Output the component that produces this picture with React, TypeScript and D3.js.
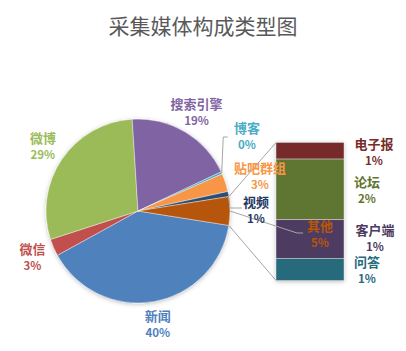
import React from 'react';
import * as d3 from 'd3';

// main pie, in drawing order (clockwise)
const pieNames = ['新闻', '微信', '微博', '搜索引擎', '博客', '贴吧群组', '视频', '其他'];
const pieValues = [39.5, 3.0, 29.0, 19.0, 0.4, 3.2, 0.9, 5.0];
const pieLabels = ['40%', '3%', '29%', '19%', '0%', '3%', '1%', '5%'];
const pieColors = ['#4f81bd', '#c0504d', '#9bbb59', '#8064a2', '#4bacc6', '#f79646', '#2c4d75', '#b65708'];
const pieTextColors = ['#4f81bd', '#c0504d', '#9bbb59', '#8064a2', '#4bacc6', '#f79646', '#1f3864', '#b65708'];

// breakdown of 其他, top to bottom
const barNames = ['电子报', '论坛', '客户端', '问答'];
const barValues = [0.6, 2.2, 1.4, 0.8];
const barLabels = ['1%', '2%', '1%', '1%'];
const barColors = ['#772c2a', '#5f7530', '#4d3b62', '#276a7c'];

const W = 406;
const H = 351;
const cx = 138;
const cy = 211;
const R = 92;
const barX0 = 276;
const barX1 = 344;
const barTop = 142.5;
const barBottom = 280.5;

// hand placed labels for the narrow slices (Excel moves them)
const pieLabelPos: Record<string, [number, number]> = {
  '博客': [247, 136],
  '贴吧群组': [260, 176],
  '视频': [256, 210],
  '其他': [320, 234],
};
const barLabelPos: [number, number][] = [
  [374, 152],
  [367, 190],
  [375, 238],
  [367, 270],
];

const otherIndex = pieNames.indexOf('其他');
const total = d3.sum(pieValues);
const offset = (Math.PI * 2 * (total - pieValues[otherIndex] / 2)) / total;

const pie = d3
  .pie<number>()
  .sort(null)
  .startAngle(Math.PI / 2 - offset)
  .endAngle(Math.PI / 2 - offset + Math.PI * 2);
const arcs = pie(pieValues);
const arc = d3.arc<d3.PieArcDatum<number>>().innerRadius(0).outerRadius(R);

const pt = (a: number, r: number): [number, number] => [cx + r * Math.sin(a), cy - r * Math.cos(a)];

const barSum = d3.sum(barValues);
const yBar = d3.scaleLinear().domain([0, barSum]).range([barTop, barBottom]);
const barStacks = barValues.map((v, i) => {
  const start = d3.sum(barValues.slice(0, i));
  return { y0: yBar(start), y1: yBar(start + v) };
});

const font = '"Noto Sans CJK SC", "Microsoft YaHei", sans-serif';

export default function App() {
  const other = arcs[otherIndex];
  const top = pt(other.startAngle, R);
  const bot = pt(other.endAngle, R);

  const leaderLine = (name: string) => {
    const i = pieNames.indexOf(name);
    const a = (arcs[i].startAngle + arcs[i].endAngle) / 2;
    const p = pt(a, R);
    if (name === '博客') {
      return `M${p[0]},${p[1]}L${p[0] + 1.5},137L${p[0] + 6},137`;
    }
    if (name === '视频') {
      return `M${p[0]},${p[1]}L${p[0] + 1.5},208L242,208`;
    }
    if (name === '其他') {
      return `M${p[0]},${p[1]}L297,233L303,233`;
    }
    return '';
  };

  return (
    <svg
      width={W}
      height={H}
      style={{ position: 'absolute', left: 0, top: 0, background: '#fff' }}
      fontFamily={font}
    >
      <defs>
        <filter id="sh" x="-20%" y="-20%" width="140%" height="140%">
          <feDropShadow dx="0" dy="1" stdDeviation="2" floodColor="#000" floodOpacity="0.25" />
        </filter>
      </defs>
      <text x={W / 2} y={34} textAnchor="middle" fontSize={21} fill="#595959">
        采集媒体构成类型图
      </text>

      {/* connectors */}
      <line x1={top[0]} y1={top[1]} x2={barX0} y2={barTop} stroke="#a6a6a6" strokeWidth={1} />
      <line x1={bot[0]} y1={bot[1]} x2={barX0} y2={barBottom} stroke="#a6a6a6" strokeWidth={1} />

      <g filter="url(#sh)">
        <g transform={`translate(${cx},${cy})`}>
          {arcs.map((d, i) => (
            <path key={pieNames[i]} d={arc(d) || ''} fill={pieColors[i]} stroke="#fff" strokeWidth={0.4} />
          ))}
        </g>
      </g>

      <g filter="url(#sh)">
        {barStacks.map((s, i) => (
          <rect
            key={barNames[i]}
            x={barX0}
            y={s.y0}
            width={barX1 - barX0}
            height={s.y1 - s.y0}
            fill={barColors[i]}
            stroke="#d9d9d9"
            strokeWidth={0.5}
          />
        ))}
      </g>

      {/* leader lines */}
      {['博客', '视频', '其他'].map((n) => (
        <path key={n} d={leaderLine(n)} fill="none" stroke="#a6a6a6" strokeWidth={1} />
      ))}

      {/* pie labels */}
      {arcs.map((d, i) => {
        const name = pieNames[i];
        const a = (d.startAngle + d.endAngle) / 2;
        const pos = pieLabelPos[name] || pt(a, 115);
        return (
          <g key={name} fill={pieTextColors[i]} fontWeight="bold" textAnchor="middle">
            <text x={pos[0]} y={pos[1] - 3} fontSize={13}>
              {name}
            </text>
            <text x={pos[0]} y={pos[1] + 13} fontSize={11.5}>
              {pieLabels[i]}
            </text>
          </g>
        );
      })}

      {/* bar labels */}
      {barNames.map((n, i) => (
        <g key={n} fill={barColors[i]} fontWeight="bold" textAnchor="middle">
          <text x={barLabelPos[i][0]} y={barLabelPos[i][1] - 3} fontSize={13}>
            {n}
          </text>
          <text x={barLabelPos[i][0]} y={barLabelPos[i][1] + 13} fontSize={11.5}>
            {barLabels[i]}
          </text>
        </g>
      ))}
    </svg>
  );
}
